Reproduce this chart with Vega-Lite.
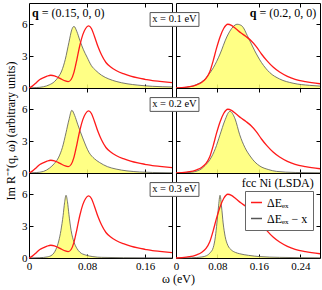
{
"$schema": "https://vega.github.io/schema/vega-lite/v6.json",
"padding": {"left": 3, "top": 2, "right": 2, "bottom": 2},
"background": "white",
"config": {
  "font": "Liberation Serif",
  "view": {"stroke": "black", "strokeWidth": 1},
  "axis": {"tickSize": -4, "tickColor": "black", "tickWidth": 1, "domain": false, "grid": false, "labelFlush": false, "labelOverlap": false, "labelPadding": 6, "labelFont": "Liberation Serif", "labelFontSize": 11, "labelColor": "black", "titleFont": "Liberation Serif", "titleFontSize": 12, "titleFontWeight": "normal", "titleColor": "black"}
},
"datasets": {
  "Lr": [{"w":0,"v":0},{"w":0.005,"v":0.2},{"w":0.01,"v":0.5},{"w":0.015,"v":0.8},{"w":0.02,"v":0.97},{"w":0.025,"v":1.12},{"w":0.03,"v":1.2},{"w":0.035,"v":1.15},{"w":0.04,"v":1.0},{"w":0.045,"v":0.82},{"w":0.05,"v":0.66},{"w":0.054,"v":0.6},{"w":0.058,"v":0.8},{"w":0.062,"v":1.5},{"w":0.066,"v":2.7},{"w":0.07,"v":4.0},{"w":0.074,"v":5.0},{"w":0.078,"v":5.6},{"w":0.082,"v":5.85},{"w":0.086,"v":5.6},{"w":0.09,"v":4.9},{"w":0.095,"v":3.9},{"w":0.1,"v":3.1},{"w":0.106,"v":2.4},{"w":0.113,"v":1.95},{"w":0.12,"v":1.65},{"w":0.13,"v":1.35},{"w":0.14,"v":1.12},{"w":0.15,"v":0.95},{"w":0.16,"v":0.82},{"w":0.17,"v":0.7},{"w":0.18,"v":0.62},{"w":0.197,"v":0.5}],
  "Lx1": [{"w":0,"v":0},{"w":0.01,"v":0.04},{"w":0.02,"v":0.12},{"w":0.028,"v":0.3},{"w":0.035,"v":0.6},{"w":0.04,"v":1.0},{"w":0.045,"v":1.6},{"w":0.05,"v":2.7},{"w":0.055,"v":4.3},{"w":0.059,"v":5.5},{"w":0.062,"v":5.8},{"w":0.066,"v":5.3},{"w":0.07,"v":4.5},{"w":0.075,"v":3.6},{"w":0.08,"v":2.9},{"w":0.086,"v":2.1},{"w":0.092,"v":1.65},{"w":0.1,"v":1.2},{"w":0.11,"v":0.85},{"w":0.12,"v":0.62},{"w":0.135,"v":0.4},{"w":0.15,"v":0.27},{"w":0.17,"v":0.16},{"w":0.197,"v":0.1}],
  "Lx2": [{"w":0,"v":0},{"w":0.01,"v":0.04},{"w":0.02,"v":0.15},{"w":0.028,"v":0.45},{"w":0.035,"v":0.9},{"w":0.041,"v":1.5},{"w":0.046,"v":2.4},{"w":0.051,"v":3.8},{"w":0.055,"v":5.0},{"w":0.059,"v":5.9},{"w":0.063,"v":5.4},{"w":0.067,"v":4.6},{"w":0.074,"v":3.3},{"w":0.083,"v":1.9},{"w":0.09,"v":1.35},{"w":0.097,"v":1.0},{"w":0.108,"v":0.6},{"w":0.12,"v":0.37},{"w":0.135,"v":0.2},{"w":0.152,"v":0.1},{"w":0.17,"v":0.05},{"w":0.197,"v":0.02}],
  "Lx3": [{"w":0,"v":0},{"w":0.015,"v":0.03},{"w":0.025,"v":0.1},{"w":0.032,"v":0.3},{"w":0.037,"v":0.8},{"w":0.041,"v":1.6},{"w":0.044,"v":2.6},{"w":0.047,"v":4.0},{"w":0.049,"v":5.2},{"w":0.051,"v":5.9},{"w":0.053,"v":5.3},{"w":0.055,"v":4.1},{"w":0.058,"v":2.6},{"w":0.062,"v":1.5},{"w":0.066,"v":0.9},{"w":0.07,"v":0.55},{"w":0.078,"v":0.28},{"w":0.088,"v":0.13},{"w":0.1,"v":0.06},{"w":0.13,"v":0.03},{"w":0.197,"v":0.01}],
  "Rr": [{"w":0,"v":0},{"w":0.02,"v":0.08},{"w":0.04,"v":0.3},{"w":0.05,"v":0.55},{"w":0.058,"v":0.9},{"w":0.065,"v":1.5},{"w":0.072,"v":2.6},{"w":0.078,"v":3.7},{"w":0.085,"v":4.8},{"w":0.092,"v":5.6},{"w":0.1,"v":6.0},{"w":0.107,"v":5.9},{"w":0.115,"v":5.6},{"w":0.125,"v":5.2},{"w":0.135,"v":4.85},{"w":0.145,"v":4.45},{"w":0.155,"v":3.9},{"w":0.165,"v":3.2},{"w":0.175,"v":2.6},{"w":0.188,"v":1.95},{"w":0.2,"v":1.5},{"w":0.215,"v":1.1},{"w":0.23,"v":0.82},{"w":0.25,"v":0.6},{"w":0.278,"v":0.4}],
  "Rx1": [{"w":0,"v":0},{"w":0.02,"v":0.06},{"w":0.033,"v":0.2},{"w":0.045,"v":0.45},{"w":0.053,"v":0.7},{"w":0.062,"v":1.2},{"w":0.072,"v":1.9},{"w":0.085,"v":3.2},{"w":0.098,"v":4.8},{"w":0.11,"v":5.75},{"w":0.118,"v":6.0},{"w":0.127,"v":5.85},{"w":0.139,"v":4.8},{"w":0.152,"v":3.5},{"w":0.165,"v":2.4},{"w":0.181,"v":1.45},{"w":0.2,"v":0.85},{"w":0.226,"v":0.45},{"w":0.258,"v":0.25},{"w":0.278,"v":0.18}],
  "Rx2": [{"w":0,"v":0},{"w":0.025,"v":0.05},{"w":0.046,"v":0.3},{"w":0.056,"v":0.7},{"w":0.066,"v":1.3},{"w":0.076,"v":2.3},{"w":0.085,"v":3.6},{"w":0.094,"v":4.9},{"w":0.104,"v":5.8},{"w":0.114,"v":5.1},{"w":0.123,"v":3.6},{"w":0.133,"v":2.4},{"w":0.143,"v":1.6},{"w":0.152,"v":1.05},{"w":0.162,"v":0.65},{"w":0.178,"v":0.33},{"w":0.194,"v":0.15},{"w":0.23,"v":0.05},{"w":0.278,"v":0.02}],
  "Rx3": [{"w":0,"v":0},{"w":0.03,"v":0.02},{"w":0.05,"v":0.1},{"w":0.059,"v":0.22},{"w":0.066,"v":0.5},{"w":0.072,"v":1.0},{"w":0.076,"v":2.0},{"w":0.079,"v":3.3},{"w":0.082,"v":4.8},{"w":0.085,"v":5.9},{"w":0.088,"v":4.8},{"w":0.091,"v":3.3},{"w":0.095,"v":2.0},{"w":0.1,"v":1.2},{"w":0.107,"v":0.75},{"w":0.115,"v":0.52},{"w":0.123,"v":0.4},{"w":0.14,"v":0.25},{"w":0.162,"v":0.13},{"w":0.2,"v":0.06},{"w":0.278,"v":0.02}]
},
"title": {"text": "ω (eV)", "orient": "bottom", "anchor": "middle", "frame": "bounds", "font": "Liberation Serif", "fontSize": 12, "fontWeight": "normal", "color": "black", "offset": 2, "dx": 15},
"columns": 2,
"spacing": {"row": 0, "column": 4},
"bounds": "flush",
"resolve": {"scale": {"color": "independent"}},
"concat": [
  {"width": 143, "height": 85, "layer": [
   {"data": {"name": "Lx1"}, "mark": {"type": "area", "interpolate": "monotone", "color": "#ffff70", "opacity": 0.85},
    "encoding": {"x": {"field": "w", "type": "quantitative", "scale": {"domain": [0, 0.197], "nice": false}, "axis": {"orient": "bottom", "values": [0.08, 0.16], "labels": false, "title": null}},
                 "y": {"field": "v", "type": "quantitative", "scale": {"domain": [0, 8], "nice": false}, "axis": {"orient": "left", "values": [0, 3, 6], "title": null}}}},
   {"data": {"name": "Lx1"}, "mark": {"type": "line", "interpolate": "monotone", "color": "#555555", "strokeWidth": 0.8},
    "encoding": {"x": {"field": "w", "type": "quantitative", "axis": {"orient": "top", "values": [0.08, 0.16], "labels": false, "title": null}},
                 "y": {"field": "v", "type": "quantitative", "axis": {"orient": "right", "values": [3, 6], "labels": false, "title": null}}}},
   {"data": {"name": "Lr"}, "mark": {"type": "line", "interpolate": "monotone", "color": "#ff1a1a", "strokeWidth": 1.3},
    "encoding": {"x": {"field": "w", "type": "quantitative", "axis": null}, "y": {"field": "v", "type": "quantitative", "axis": null}}},
   {"data": {"values": [{}]}, "mark": {"type": "text", "text": "q", "fontWeight": "bold", "fontSize": 12, "align": "left", "baseline": "middle", "color": "black"},
    "encoding": {"x": {"datum": 0.004, "type": "quantitative", "axis": null}, "y": {"datum": 7.1, "type": "quantitative", "axis": null}}},
   {"data": {"values": [{}]}, "mark": {"type": "text", "text": "= (0.15, 0, 0)", "fontSize": 12, "align": "left", "baseline": "middle", "color": "black"},
    "encoding": {"x": {"datum": 0.0175, "type": "quantitative", "axis": null}, "y": {"datum": 7.1, "type": "quantitative", "axis": null}}}
  ]},
  {"width": 144, "height": 85, "layer": [
   {"data": {"name": "Rx1"}, "mark": {"type": "area", "interpolate": "monotone", "color": "#ffff70", "opacity": 0.85},
    "encoding": {"x": {"field": "w", "type": "quantitative", "scale": {"domain": [0, 0.278], "nice": false}, "axis": {"orient": "bottom", "values": [0.08, 0.16, 0.24], "labels": false, "title": null}},
                 "y": {"field": "v", "type": "quantitative", "scale": {"domain": [0, 8], "nice": false}, "axis": {"orient": "left", "values": [3, 6], "labels": false, "title": null}}}},
   {"data": {"name": "Rx1"}, "mark": {"type": "line", "interpolate": "monotone", "color": "#555555", "strokeWidth": 0.8},
    "encoding": {"x": {"field": "w", "type": "quantitative", "axis": {"orient": "top", "values": [0.08, 0.16, 0.24], "labels": false, "title": null}},
                 "y": {"field": "v", "type": "quantitative", "axis": {"orient": "right", "values": [3, 6], "labels": false, "title": null}}}},
   {"data": {"name": "Rr"}, "mark": {"type": "line", "interpolate": "monotone", "color": "#ff1a1a", "strokeWidth": 1.3},
    "encoding": {"x": {"field": "w", "type": "quantitative", "axis": null}, "y": {"field": "v", "type": "quantitative", "axis": null}}},
   {"data": {"values": [{}]}, "mark": {"type": "rect", "fill": "white", "stroke": "#555555", "strokeWidth": 1},
    "encoding": {"x": {"datum": -0.05, "type": "quantitative", "axis": null}, "x2": {"datum": 0.0443}, "y": {"datum": 5.8, "type": "quantitative", "axis": null}, "y2": {"datum": 7.1}}},
   {"data": {"values": [{}]}, "mark": {"type": "text", "text": "x = 0.1 eV", "fontSize": 10.5, "align": "center", "baseline": "middle", "color": "black"},
    "encoding": {"x": {"datum": -0.003, "type": "quantitative", "axis": null}, "y": {"datum": 6.45, "type": "quantitative", "axis": null}}},
   {"data": {"values": [{}]}, "mark": {"type": "text", "text": "q", "fontWeight": "bold", "fontSize": 12, "align": "left", "baseline": "middle", "color": "black"},
    "encoding": {"x": {"datum": 0.1425, "type": "quantitative", "axis": null}, "y": {"datum": 7.1, "type": "quantitative", "axis": null}}},
   {"data": {"values": [{}]}, "mark": {"type": "text", "text": "= (0.2, 0, 0)", "fontSize": 12, "align": "left", "baseline": "middle", "color": "black"},
    "encoding": {"x": {"datum": 0.161, "type": "quantitative", "axis": null}, "y": {"datum": 7.1, "type": "quantitative", "axis": null}}}
  ]},
  {"width": 143, "height": 85, "layer": [
   {"data": {"name": "Lx2"}, "mark": {"type": "area", "interpolate": "monotone", "color": "#ffff70", "opacity": 0.85},
    "encoding": {"x": {"field": "w", "type": "quantitative", "scale": {"domain": [0, 0.197], "nice": false}, "axis": {"orient": "bottom", "values": [0.08, 0.16], "labels": false, "title": null}},
                 "y": {"field": "v", "type": "quantitative", "scale": {"domain": [0, 8], "nice": false}, "axis": {"orient": "left", "values": [0, 3, 6], "title": "Im R⁻⁺(q, ω)  (arbitrary units)", "titlePadding": 4}}}},
   {"data": {"name": "Lx2"}, "mark": {"type": "line", "interpolate": "monotone", "color": "#555555", "strokeWidth": 0.8},
    "encoding": {"x": {"field": "w", "type": "quantitative", "axis": {"orient": "top", "values": [0.08, 0.16], "labels": false, "title": null}},
                 "y": {"field": "v", "type": "quantitative", "axis": {"orient": "right", "values": [3, 6], "labels": false, "title": null}}}},
   {"data": {"name": "Lr"}, "mark": {"type": "line", "interpolate": "monotone", "color": "#ff1a1a", "strokeWidth": 1.3},
    "encoding": {"x": {"field": "w", "type": "quantitative", "axis": null}, "y": {"field": "v", "type": "quantitative", "axis": null}}}
  ]},
  {"width": 144, "height": 85, "layer": [
   {"data": {"name": "Rx2"}, "mark": {"type": "area", "interpolate": "monotone", "color": "#ffff70", "opacity": 0.85},
    "encoding": {"x": {"field": "w", "type": "quantitative", "scale": {"domain": [0, 0.278], "nice": false}, "axis": {"orient": "bottom", "values": [0.08, 0.16, 0.24], "labels": false, "title": null}},
                 "y": {"field": "v", "type": "quantitative", "scale": {"domain": [0, 8], "nice": false}, "axis": {"orient": "left", "values": [3, 6], "labels": false, "title": null}}}},
   {"data": {"name": "Rx2"}, "mark": {"type": "line", "interpolate": "monotone", "color": "#555555", "strokeWidth": 0.8},
    "encoding": {"x": {"field": "w", "type": "quantitative", "axis": {"orient": "top", "values": [0.08, 0.16, 0.24], "labels": false, "title": null}},
                 "y": {"field": "v", "type": "quantitative", "axis": {"orient": "right", "values": [3, 6], "labels": false, "title": null}}}},
   {"data": {"name": "Rr"}, "mark": {"type": "line", "interpolate": "monotone", "color": "#ff1a1a", "strokeWidth": 1.3},
    "encoding": {"x": {"field": "w", "type": "quantitative", "axis": null}, "y": {"field": "v", "type": "quantitative", "axis": null}}},
   {"data": {"values": [{}]}, "mark": {"type": "rect", "fill": "white", "stroke": "#555555", "strokeWidth": 1},
    "encoding": {"x": {"datum": -0.05, "type": "quantitative", "axis": null}, "x2": {"datum": 0.0443}, "y": {"datum": 5.8, "type": "quantitative", "axis": null}, "y2": {"datum": 7.1}}},
   {"data": {"values": [{}]}, "mark": {"type": "text", "text": "x = 0.2 eV", "fontSize": 10.5, "align": "center", "baseline": "middle", "color": "black"},
    "encoding": {"x": {"datum": -0.003, "type": "quantitative", "axis": null}, "y": {"datum": 6.45, "type": "quantitative", "axis": null}}}
  ]},
  {"width": 143, "height": 85, "layer": [
   {"data": {"name": "Lx3"}, "mark": {"type": "area", "interpolate": "monotone", "color": "#ffff70", "opacity": 0.85},
    "encoding": {"x": {"field": "w", "type": "quantitative", "scale": {"domain": [0, 0.197], "nice": false}, "axis": {"orient": "bottom", "values": [0, 0.08, 0.16], "format": "~g", "title": null}},
                 "y": {"field": "v", "type": "quantitative", "scale": {"domain": [0, 8], "nice": false}, "axis": {"orient": "left", "values": [0, 3, 6], "title": null}}}},
   {"data": {"name": "Lx3"}, "mark": {"type": "line", "interpolate": "monotone", "color": "#555555", "strokeWidth": 0.8},
    "encoding": {"x": {"field": "w", "type": "quantitative", "axis": {"orient": "top", "values": [0.08, 0.16], "labels": false, "title": null}},
                 "y": {"field": "v", "type": "quantitative", "axis": {"orient": "right", "values": [3, 6], "labels": false, "title": null}}}},
   {"data": {"name": "Lr"}, "mark": {"type": "line", "interpolate": "monotone", "color": "#ff1a1a", "strokeWidth": 1.3},
    "encoding": {"x": {"field": "w", "type": "quantitative", "axis": null}, "y": {"field": "v", "type": "quantitative", "axis": null}}}
  ]},
  {"width": 144, "height": 85, "layer": [
   {"data": {"name": "Rx3"}, "mark": {"type": "area", "interpolate": "monotone", "color": "#ffff70", "opacity": 0.85},
    "encoding": {"x": {"field": "w", "type": "quantitative", "scale": {"domain": [0, 0.278], "nice": false}, "axis": {"orient": "bottom", "values": [0, 0.08, 0.16, 0.24], "format": "~g", "title": null}},
                 "y": {"field": "v", "type": "quantitative", "scale": {"domain": [0, 8], "nice": false}, "axis": {"orient": "left", "values": [3, 6], "labels": false, "title": null}}}},
   {"data": {"name": "Rx3"}, "mark": {"type": "line", "interpolate": "monotone", "strokeWidth": 0.8},
    "encoding": {"x": {"field": "w", "type": "quantitative", "axis": {"orient": "top", "values": [0.08, 0.16, 0.24], "labels": false, "title": null}},
                 "y": {"field": "v", "type": "quantitative", "axis": {"orient": "right", "values": [3, 6], "labels": false, "title": null}},
                 "color": {"datum": "ΔEₑₓ − x", "type": "nominal", "scale": {"domain": ["ΔEₑₓ", "ΔEₑₓ − x"], "range": ["#ff1a1a", "#555555"]},
                           "legend": {"orient": "none", "legendX": 69, "legendY": 18, "title": null, "symbolType": "stroke", "symbolSize": 120, "symbolStrokeWidth": 1.5, "strokeColor": "#666666", "fillColor": "white", "padding": 5, "labelFont": "Liberation Serif", "labelFontSize": 12, "labelColor": "black", "rowPadding": 3}}}},
   {"data": {"name": "Rr"}, "mark": {"type": "line", "interpolate": "monotone", "strokeWidth": 1.3},
    "encoding": {"x": {"field": "w", "type": "quantitative", "axis": null}, "y": {"field": "v", "type": "quantitative", "axis": null},
                 "color": {"datum": "ΔEₑₓ", "type": "nominal"}}},
   {"data": {"values": [{}]}, "mark": {"type": "rect", "fill": "white", "stroke": "#555555", "strokeWidth": 1},
    "encoding": {"x": {"datum": -0.05, "type": "quantitative", "axis": null}, "x2": {"datum": 0.0443}, "y": {"datum": 5.8, "type": "quantitative", "axis": null}, "y2": {"datum": 7.1}}},
   {"data": {"values": [{}]}, "mark": {"type": "text", "text": "x = 0.3 eV", "fontSize": 10.5, "align": "center", "baseline": "middle", "color": "black"},
    "encoding": {"x": {"datum": -0.003, "type": "quantitative", "axis": null}, "y": {"datum": 6.45, "type": "quantitative", "axis": null}}},
   {"data": {"values": [{}]}, "mark": {"type": "text", "text": "fcc Ni (LSDA)", "fontSize": 12, "align": "right", "baseline": "middle", "color": "black"},
    "encoding": {"x": {"datum": 0.266, "type": "quantitative", "axis": null}, "y": {"datum": 7.05, "type": "quantitative", "axis": null}}}
  ]}
]
}
